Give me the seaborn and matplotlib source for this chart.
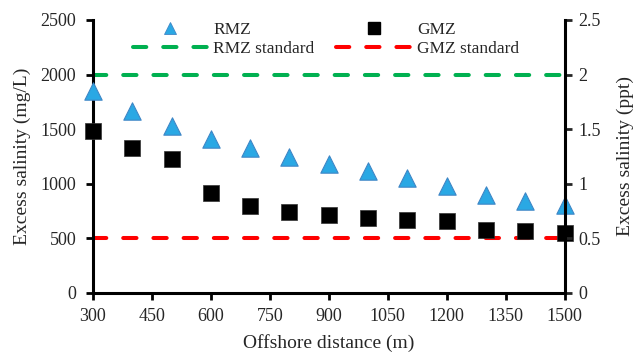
import matplotlib
matplotlib.use("Agg")
import matplotlib.pyplot as plt
import seaborn as sns
import pandas as pd
from matplotlib.lines import Line2D

# Offshore distance (m) and excess salinity (mg/L)
distance = [300, 400, 500, 600, 700, 800, 900, 1000, 1100, 1200, 1300, 1400, 1500]
rmz = [1850, 1667, 1530, 1410, 1327, 1245, 1181, 1117, 1053, 976, 898, 845, 809]
gmz = [1483, 1327, 1227, 918, 797, 744, 715, 690, 668, 659, 577, 568, 551]
rmz_standard = 2000
gmz_standard = 500

x_ticks = [300, 450, 600, 750, 900, 1050, 1200, 1350, 1500]
y_ticks = [0, 500, 1000, 1500, 2000, 2500]
ppt_ticks = [0, 0.5, 1, 1.5, 2, 2.5]
ppt_labels = ["0", "0.5", "1", "1.5", "2", "2.5"]

sns.set_style("ticks")
plt.rcParams["font.family"] = ["Liberation Serif", "DejaVu Serif"]

df = pd.DataFrame({"distance": distance, "RMZ": rmz, "GMZ": gmz})

fig = plt.figure(figsize=(6.36, 3.56), dpi=100)
ax = fig.add_axes([0.146, 0.177, 0.742, 0.767])

tri_face = "#2AA8E4"
tri_edge = "#3F86C6"
lw_std = 2.9
dash = (3.3, 4.2)

# standard lines
ax.plot([distance[0], distance[-1]], [rmz_standard] * 2, color="#00B050",
        lw=lw_std, dashes=dash, dash_capstyle="round", zorder=2)
ax.plot([distance[0], distance[-1]], [gmz_standard] * 2, color="#FF0000",
        lw=lw_std, dashes=dash, dash_capstyle="round", zorder=2)

sns.scatterplot(data=df, x="distance", y="RMZ", marker="^", s=12.5 ** 2,
                color=tri_face, edgecolor=tri_edge, linewidth=0.8, ax=ax,
                zorder=3, clip_on=False)
sns.scatterplot(data=df, x="distance", y="GMZ", marker="s", s=11.5 ** 2,
                color="black", edgecolor="#333333", linewidth=0.5, ax=ax,
                zorder=3, clip_on=False)

ax.set_xlim(300, 1500)
ax.set_ylim(0, 2500)
ax.set_xticks(x_ticks)
ax.set_yticks(y_ticks)
ax.set_xlabel("Offshore distance (m)", fontsize=14, labelpad=6)
ax.set_ylabel("Excess salinity (mg/L)", fontsize=14, labelpad=7)
ax.tick_params(axis="y", labelsize=13, width=2, length=5, direction="out",
               color="black", pad=7)
ax.tick_params(axis="x", labelsize=13, width=2, length=5, direction="out",
               color="black", pad=6)

for side in ["left", "bottom"]:
    ax.spines[side].set_linewidth(2.2)
    ax.spines[side].set_color("black")
ax.spines["top"].set_visible(False)
ax.spines["right"].set_visible(False)

ax2 = ax.twinx()
ax2.set_ylim(0, 2.5)
ax2.set_yticks(ppt_ticks)
ax2.set_yticklabels(ppt_labels)
ax2.set_ylabel("Excess salinity (ppt)", fontsize=14, labelpad=11)
ax2.tick_params(axis="y", labelsize=13, width=2, length=5, direction="out", pad=5)
ax2.spines["right"].set_linewidth(2.2)
ax2.spines["right"].set_color("black")
for side in ["top", "left", "bottom"]:
    ax2.spines[side].set_visible(False)

handles = [
    Line2D([], [], marker="^", ls="none", markersize=9, markerfacecolor=tri_face,
           markeredgecolor=tri_edge, markeredgewidth=0.6),
    Line2D([], [], color="#00B050", lw=lw_std, dashes=dash, dash_capstyle="round"),
    Line2D([], [], marker="s", ls="none", markersize=8, markerfacecolor="black",
           markeredgecolor="black"),
    Line2D([], [], color="#FF0000", lw=lw_std, dashes=dash, dash_capstyle="round"),
]
labels = ["RMZ", "RMZ standard", "GMZ", "GMZ standard"]
ax.legend(handles, labels, ncol=2, frameon=False, fontsize=12.5,
          loc="upper left", bbox_to_anchor=(0.051, 1.05), handlelength=4.3,
          handletextpad=0.35, columnspacing=1.25, labelspacing=0.17)

fig.savefig("out.png", dpi=100)
